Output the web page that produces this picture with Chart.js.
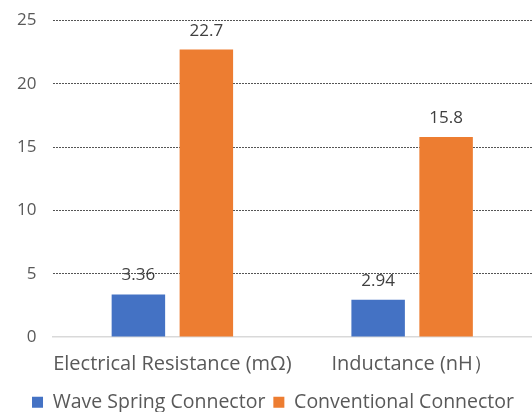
<!DOCTYPE html>
<html>
<head>
<meta charset="utf-8">
<script src="https://cdn.jsdelivr.net/npm/chart.js@4/dist/chart.umd.min.js"></script>
<style>
  html, body { margin: 0; padding: 0; background: #ffffff; }
  #wrap { width: 532px; height: 412px; position: relative; }
</style>
</head>
<body>
<div id="wrap"><canvas id="c"></canvas></div>
<script>
const categories = ['Electrical Resistance (mΩ)', 'Inductance (nH）'];
const waveSpring = [3.36, 2.94];
const conventional = [22.7, 15.8];
const seriesNames = ['Wave Spring Connector', 'Conventional Connector'];
const yTicks = [0, 5, 10, 15, 20, 25];

const FONT = "'Open Sans', 'Noto Sans', sans-serif";

// Value labels above each bar, positioned from the bar elements
const valueLabels = {
  id: 'valueLabels',
  afterDatasetsDraw(chart) {
    const ctx = chart.ctx;
    ctx.save();
    ctx.font = '17px ' + FONT;
    ctx.fillStyle = '#404040';
    ctx.textAlign = 'center';
    ctx.textBaseline = 'alphabetic';
    chart.data.datasets.forEach((ds, i) => {
      chart.getDatasetMeta(i).data.forEach((bar, j) => {
        ctx.fillText(String(ds.data[j]), bar.x, bar.y - 14);
      });
    });
    ctx.restore();
  }
};

// Move the legend row down into its padding and a little to the right
const legendShift = {
  id: 'legendShift',
  afterLayout(chart) {
    const lg = chart.legend;
    lg.top += 10;
    lg.bottom += 10;
    lg.left += 7;
    lg.right += 7;
  }
};

new Chart(document.getElementById('c'), {
  type: 'bar',
  data: {
    labels: categories,
    datasets: [
      { label: seriesNames[0], data: waveSpring, backgroundColor: '#4472C4' },
      { label: seriesNames[1], data: conventional, backgroundColor: '#ED7D31' }
    ]
  },
  options: {
    responsive: true,
    maintainAspectRatio: false,
    animation: false,
    devicePixelRatio: 1,
    categoryPercentage: 0.567,
    barPercentage: 0.787,
    layout: { padding: { top: 20.5, left: 0, right: 0, bottom: 0 } },
    scales: {
      x: {
        afterFit(scale) { scale.paddingLeft = 0; scale.paddingRight = 0; scale.height = 37.5; },
        grid: { display: false },
        border: { display: true, color: '#d9d9d9', width: 1.5 },
        ticks: {
          color: '#595959',
          font: { family: FONT, size: 20 },
          padding: 7,
          maxRotation: 0,
          minRotation: 0,
          autoSkip: false
        }
      },
      y: {
        min: 0,
        max: 25,
        afterBuildTicks(scale) { scale.ticks = yTicks.map(v => ({ value: v })); },
        afterFit(scale) { scale.width = 52.5; scale.paddingTop = 0; scale.paddingBottom = 0; },
        grid: {
          drawTicks: false,
          color: ctx => (ctx.tick && ctx.tick.value === 0) ? 'rgba(0,0,0,0)' : '#555555',
          lineWidth: 1
        },
        border: { display: false, dash: [2, 1] },
        ticks: { color: '#595959', font: { family: FONT, size: 17 }, padding: 16 }
      }
    },
    plugins: {
      legend: {
        position: 'bottom',
        labels: {
          color: '#595959',
          font: { family: FONT, size: 19.5 },
          boxWidth: 11,
          boxHeight: 11,
          padding: 8
        }
      },
      tooltip: { enabled: false }
    }
  },
  plugins: [valueLabels, legendShift]
});
</script>
</body>
</html>
